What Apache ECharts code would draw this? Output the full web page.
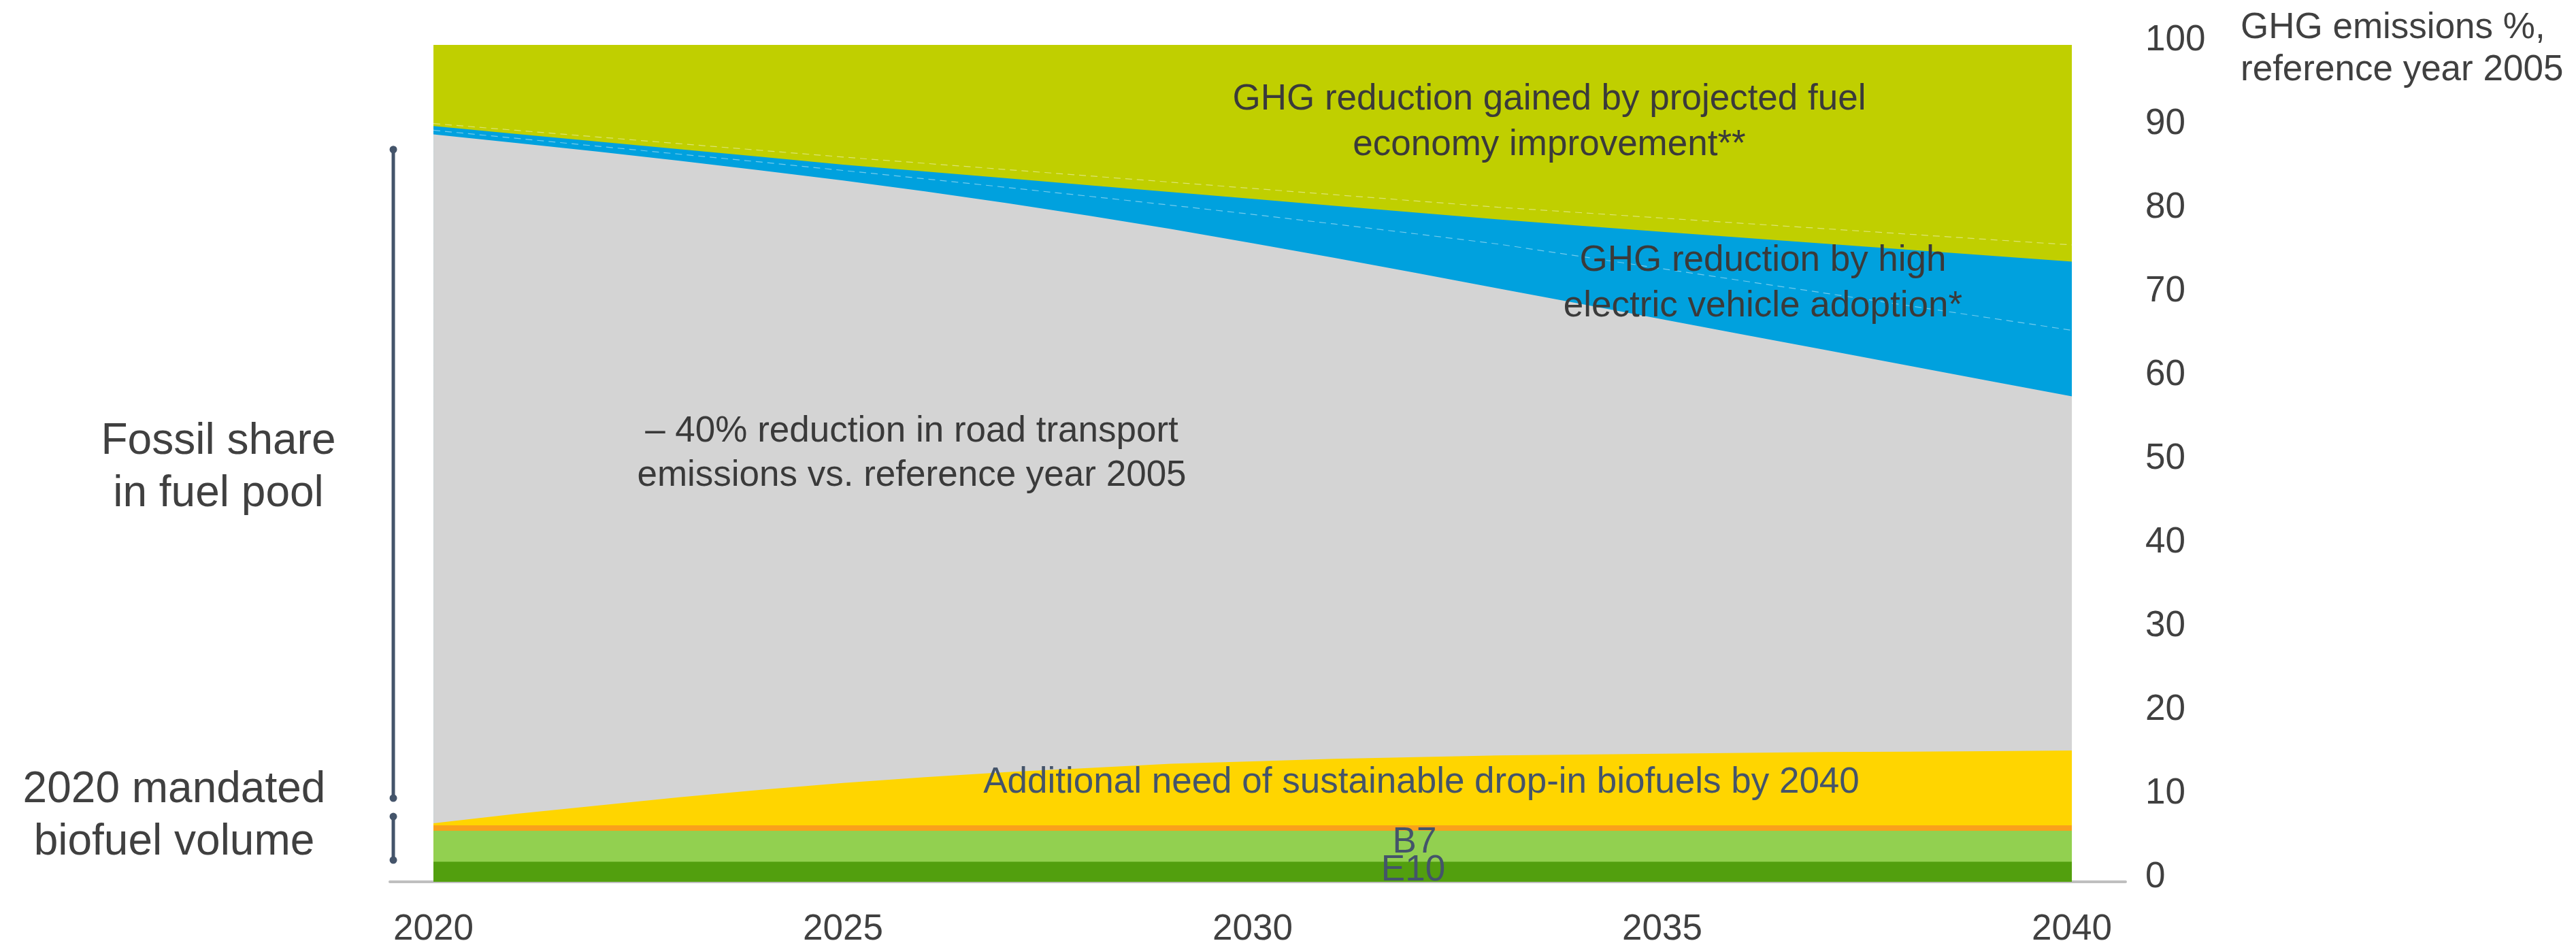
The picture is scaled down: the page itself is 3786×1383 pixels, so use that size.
<!DOCTYPE html>
<html>
<head>
<meta charset="utf-8">
<script src="https://cdn.jsdelivr.net/npm/echarts@6/dist/echarts.min.js"></script>
<style>
html,body{margin:0;padding:0;background:#fff;}
#chart{width:3786px;height:1383px;}
</style>
</head>
<body>
<div id="chart"></div>
<script>
// ---- data (top boundary of each stacked layer, % of 2005 GHG emissions) ----
const years = [2020,2021,2022,2023,2024,2025,2026,2027,2028,2029,2030,2031,2032,2033,2034,2035,2036,2037,2038,2039,2040];
const totalTop = [100,100,100,100,100,100,100,100,100,100,100,100,100,100,100,100,100,100,100,100,100];
const fuelEconomyLowerTop = [90.6,89.8,89.0,88.2,87.4,86.6,85.85,85.1,84.35,83.6,82.85,82.1,81.35,80.6,79.96,79.31,78.67,78.03,77.39,76.74,76.1];
const evUpperTop = [90.3,89.38,88.46,87.54,86.62,85.7,84.88,84.06,83.24,82.42,81.6,80.78,79.96,79.14,78.39,77.67,76.96,76.24,75.53,74.81,74.1];
const evLowerTop = [89.8,88.85,87.9,86.95,86.0,85.0,84.0,82.97,81.92,80.85,79.75,78.6,77.42,76.2,74.73,73.26,71.79,70.32,68.85,67.38,65.9];
const fossilTop = [89.3,88.3,87.25,86.15,85.0,83.8,82.5,81.1,79.6,78.0,76.3,74.55,72.75,70.9,69.06,67.21,65.37,63.53,61.69,59.84,58.0];
const dropInTop = [7.0,8.1,9.1,10.1,11.0,11.8,12.5,13.1,13.6,14.1,14.4,14.7,14.9,15.1,15.2,15.3,15.4,15.5,15.55,15.6,15.7];
const mandateTop = [6.75,6.75,6.75,6.75,6.75,6.75,6.75,6.75,6.75,6.75,6.75,6.75,6.75,6.75,6.75,6.75,6.75,6.75,6.75,6.75,6.75];
const b7Top = [6.1,6.1,6.1,6.1,6.1,6.1,6.1,6.1,6.1,6.1,6.1,6.1,6.1,6.1,6.1,6.1,6.1,6.1,6.1,6.1,6.1];
const e10Top = [2.4,2.4,2.4,2.4,2.4,2.4,2.4,2.4,2.4,2.4,2.4,2.4,2.4,2.4,2.4,2.4,2.4,2.4,2.4,2.4,2.4];
const xTickLabels = [2020,2025,2030,2035,2040];
// bracket extents (axis values)
const fossilBracket = [87.5, 10.0];
const biofuelBracket = [7.8, 2.6];

const FONT = '"Liberation Sans", Arial, sans-serif';
const chart = echarts.init(document.getElementById('chart'), null, {renderer:'canvas'});

function layer(name, arr, color, dashed){
  return {
    name: name, type:'line', data: years.map((y,i)=>[y, arr[i]]),
    symbol:'none', silent:true, animation:false,
    lineStyle: dashed ? {color:'rgba(255,255,255,0.45)', width:1.2, type:[10,7]} : {width:0, opacity:0},
    areaStyle: {color: color, opacity:1},
    z: 2
  };
}

chart.setOption({
  backgroundColor:'#ffffff',
  animation:false,
  grid:{left:573, right:662, top:66, bottom:87, containLabel:false, outerBoundsMode:'none'},
  xAxis:{
    type:'value', min:2019.468, max:2040.656,
    axisLine:{show:true, lineStyle:{color:'#bfbfbf', width:4}},
    axisTick:{show:false},
    splitLine:{show:false},
    axisLabel:{customValues:xTickLabels, fontSize:53, fontFamily:FONT, color:'#404040', margin:44, formatter:v=>String(v)}
  },
  yAxis:{
    type:'value', position:'right', min:0, max:100, interval:10,
    axisLine:{show:false}, axisTick:{show:false}, splitLine:{show:false},
    axisLabel:{fontSize:53, fontFamily:FONT, color:'#404040', margin:29, align:'left', verticalAlign:'bottom', lineHeight:13}
  },
  series:[
    layer('Fuel economy improvement', totalTop, '#c0cf00', false),
    layer('Fuel economy (lower)', fuelEconomyLowerTop, '#c0cf00', true),
    layer('EV adoption (upper)', evUpperTop, '#00a1de', false),
    layer('EV adoption (lower)', evLowerTop, '#00a1de', true),
    layer('Fossil', fossilTop, '#d4d4d4', false),
    layer('Drop-in biofuels', dropInTop, '#ffd500', false),
    layer('Mandate', mandateTop, '#f9a11b', false),
    layer('B7', b7Top, '#92d050', false),
    layer('E10', e10Top, '#529f0e', false)
  ]
});

function px(x, y){ return chart.convertToPixel({gridIndex:0}, [x, y]); }
const bx = px(2020, 0)[0] - 59;

function bracket(vals){
  const y1 = px(2020, vals[0])[1], y2 = px(2020, vals[1])[1];
  const c = '#44546a';
  return [
    {type:'line', shape:{x1:bx, y1:y1, x2:bx, y2:y2}, style:{stroke:c, lineWidth:5}, silent:true},
    {type:'circle', shape:{cx:bx, cy:y1, r:5.5}, style:{fill:c}, silent:true},
    {type:'circle', shape:{cx:bx, cy:y2, r:5.5}, style:{fill:c}, silent:true}
  ];
}
function txt(t, x, y, size, color, align, lh){
  return {type:'text', x:x, y:y, silent:true, z:100,
    style:{text:t, fill:color, fontSize:size, fontFamily:FONT, align:align||'center', verticalAlign:'middle', lineHeight:lh||Math.round(size*1.27)}};
}

chart.setOption({
  graphic: [].concat(
    bracket(fossilBracket),
    bracket(biofuelBracket),
    [
      txt('GHG reduction gained by projected fuel\neconomy improvement**', 2277, 180, 53, '#3a3a3a', 'center', 67),
      txt('GHG reduction by high\nelectric vehicle adoption*', 2591, 417, 53, '#3a3a3a', 'center', 67),
      txt('– 40% reduction in road transport\nemissions vs. reference year 2005', 1340, 667, 53, '#3a3a3a', 'center', 65),
      txt('Additional need of sustainable drop-in biofuels by 2040', 2089, 1150, 53, '#44546a', 'center'),
      txt('B7', 2079, 1238, 53, '#44546a', 'center'),
      txt('E10', 2077, 1279, 53, '#44546a', 'center'),
      txt('Fossil share\nin fuel pool', 321, 688, 64, '#404040', 'center', 77),
      txt('2020 mandated\nbiofuel volume', 256, 1200, 64, '#404040', 'center', 77),
      txt('GHG emissions %,\nreference year 2005', 3293, 72, 53, '#404040', 'left', 62)
    ]
  )
});
</script>
</body>
</html>
